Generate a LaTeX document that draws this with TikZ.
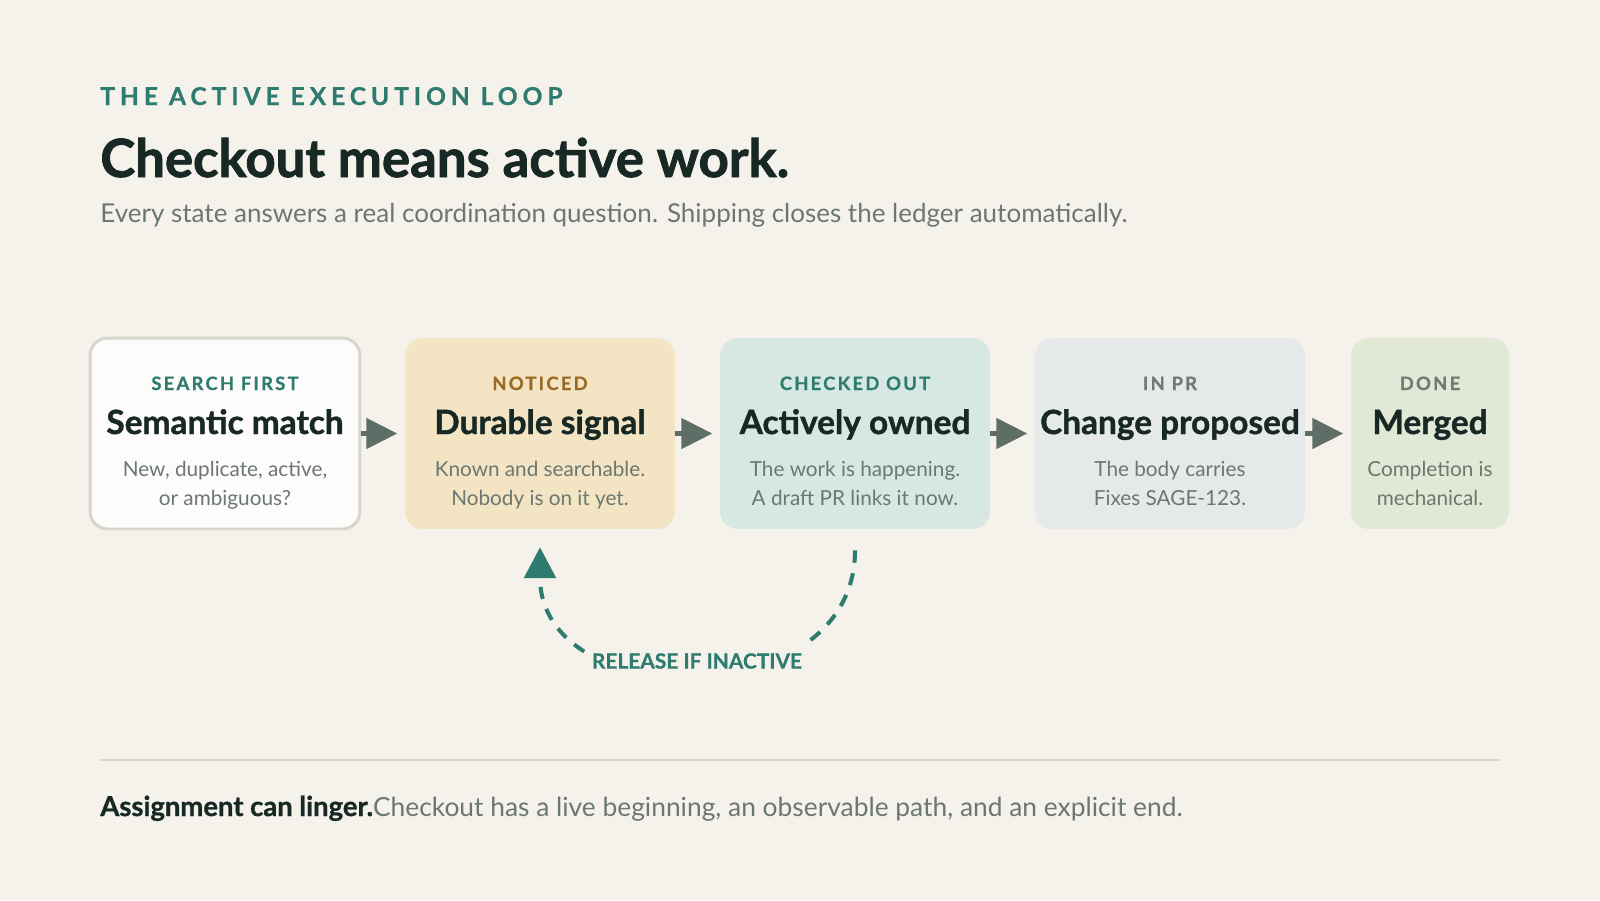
\documentclass[tikz,border=0pt]{standalone}
\usepackage{fontspec}
\setmainfont{Lato}
\usetikzlibrary{arrows.meta}
\definecolor{bg}{HTML}{F5F2EC}
\definecolor{teal}{HTML}{2E7B6F}
\definecolor{ink}{HTML}{182925}
\definecolor{muted}{HTML}{6B7770}
\definecolor{brown}{HTML}{9A6A25}
\definecolor{slate}{HTML}{6E7A75}
\definecolor{flow}{HTML}{5E6E66}
\definecolor{rule}{HTML}{D6D6CD}
\definecolor{searchfill}{HTML}{FDFCFA}
\definecolor{noticedfill}{HTML}{F3E4C4}
\definecolor{checkedfill}{HTML}{D7E8E2}
\definecolor{inprfill}{HTML}{E6E9EA}
\definecolor{donefill}{HTML}{E2E8D6}
\tikzset{
  state/.style={rounded corners=10pt, minimum width=153.6pt, minimum height=108.7pt, inner sep=0pt},
  tag/.style={anchor=base, inner sep=0pt, font=\bfseries\fontsize{10.5}{12}\selectfont\addfontfeatures{LetterSpace=12,FakeBold=0.6}},
  head/.style={anchor=base, inner sep=0pt, text=ink, font=\bfseries\fontsize{19}{22}\selectfont\addfontfeatures{FakeBold=1.2}},
  desc/.style={anchor=base, inner sep=0pt, text=muted, align=center, font=\fontsize{11.8}{16.5}\selectfont},
  flowarrow/.style={draw=flow, line width=2.8pt, -{Triangle[length=17.6pt, width=17pt, fill=flow]}, shorten >=4.2pt}
}
\begin{document}
\begin{tikzpicture}[x=0.02cm, y=-0.02cm]
\useasboundingbox[fill=bg] (0,0) rectangle (1600,900);
% header
\node[anchor=base west, inner sep=0pt, text=teal, font=\bfseries\fontsize{14}{16}\selectfont\addfontfeatures{LetterSpace=20,FakeBold=0.8}] (eyebrow) at (100,105) {THE ACTIVE EXECUTION LOOP};
\node[anchor=base west, inner sep=0pt, text=ink, font=\bfseries\fontsize{30}{36}\selectfont\addfontfeatures{FakeBold=1.6}] (title) at (100,177) {Checkout means active work.};
\node[anchor=base west, inner sep=0pt, text=muted, font=\fontsize{14.8}{17}\selectfont] (subtitle) at (100,222) {Every state answers a real coordination question. Shipping closes the ledger automatically.};

% states
\node[state, fill=searchfill, draw=rule, line width=1.7pt] (search) at (225,433.5) {};
\node[tag, text=teal] at (225,390) {SEARCH FIRST};
\node[head] at (225,434) {Semantic match};
\node[desc] at (225,505) {New, duplicate, active,\\or ambiguous?};

\node[state, fill=noticedfill] (noticed) at (540,433.5) {};
\node[tag, text=brown] at (540,390) {NOTICED};
\node[head] at (540,434) {Durable signal};
\node[desc] at (540,505) {Known and searchable.\\Nobody is on it yet.};

\node[state, fill=checkedfill] (checked) at (855,433.5) {};
\node[tag, text=teal] at (855,390) {CHECKED OUT};
\node[head] at (855,434) {Actively owned};
\node[desc] at (855,505) {The work is happening.\\A draft PR links it now.};

\node[state, fill=inprfill] (inpr) at (1170,433.5) {};
\node[tag, text=slate] at (1170,390) {IN PR};
\node[head] at (1170,434) {Change proposed};
\node[desc] at (1170,505) {The body carries\\Fixes SAGE-123.};

\node[state, fill=donefill, minimum width=89.9pt] (done) at (1430,433.5) {};
\node[tag, text=slate] at (1430,390) {DONE};
\node[head] at (1430,434) {Merged};
\node[desc] at (1430,505) {Completion is\\mechanical.};

% flow
\draw[flowarrow] (search) -- (noticed);
\draw[flowarrow] (noticed) -- (checked);
\draw[flowarrow] (checked) -- (inpr);
\draw[flowarrow] (inpr) -- (done);

% release loop
\draw[teal, line width=2.3pt, dash pattern=on 7pt off 6pt, shorten <=12pt, shorten >=10.2pt, -{Triangle[length=17.6pt, width=18pt, fill=teal]}]
  (checked.south) .. controls +(0,186) and +(0,186) .. (noticed.south);
\node[fill=bg, inner xsep=2pt, inner ysep=6.5pt, text=teal, font=\bfseries\fontsize{11.9}{14}\selectfont\addfontfeatures{FakeBold=0.6}] (release) at (697,661) {RELEASE IF INACTIVE};

% footer
\draw[rule, line width=1.2pt] (100,760) -- (1500,760);
\node[anchor=base west, inner sep=0pt, text=ink, font=\fontsize{15}{18}\selectfont] (footer) at (100,816) {{\bfseries\fontsize{15.6}{18}\selectfont\addfontfeatures{FakeBold=1}Assignment can linger.}\textcolor{muted}{Checkout has a live beginning, an observable path, and an explicit end.}};
\end{tikzpicture}
\end{document}
